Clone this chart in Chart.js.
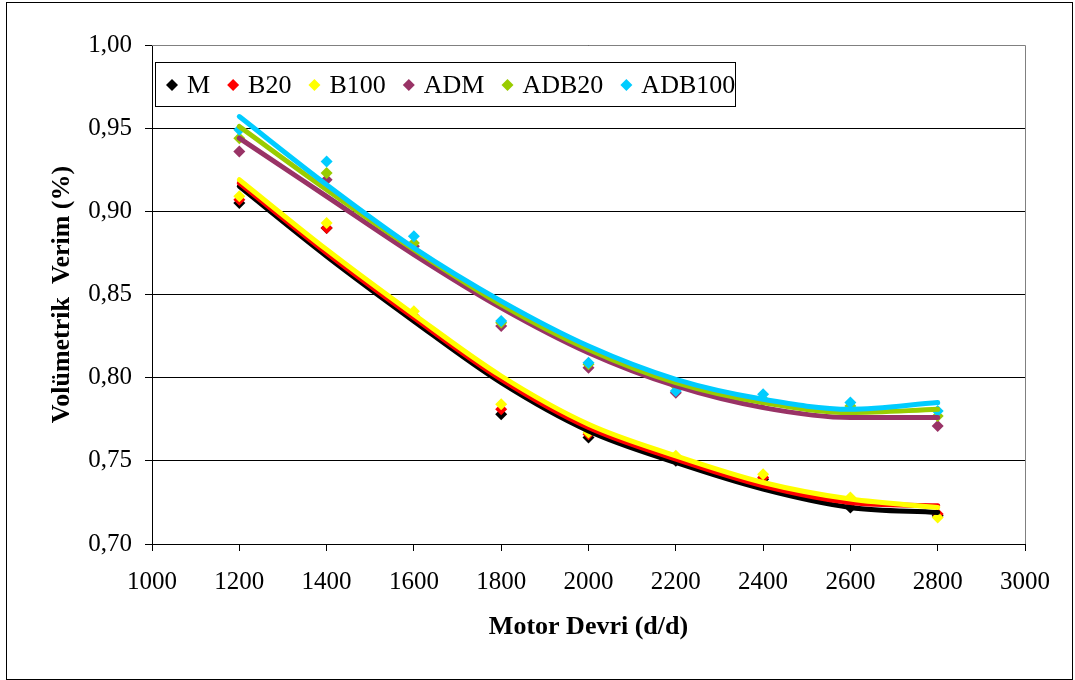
<!DOCTYPE html>
<html>
<head>
<meta charset="utf-8">
<script src="https://cdn.jsdelivr.net/npm/chart.js@4/dist/chart.umd.min.js"></script>
<style>
  html, body { margin: 0; padding: 0; background: #fff; }
  canvas { display: block; }
</style>
</head>
<body>
<canvas id="chart" width="1075" height="680"></canvas>
<script>
// motor speed (d/d)
const rpm = [1200, 1400, 1600, 1800, 2000, 2200, 2400, 2600, 2800];

// measured volumetric efficiency
const M      = [0.905, 0.890, 0.836, 0.778, 0.764, 0.750, 0.739, 0.722, 0.717];
const B20    = [0.907, 0.890, 0.837, 0.781, 0.766, 0.751, 0.740, 0.725, 0.718];
const B100   = [0.909, 0.893, 0.840, 0.784, 0.767, 0.753, 0.742, 0.728, 0.716];
const ADM    = [0.936, 0.919, 0.879, 0.831, 0.806, 0.791, 0.786, 0.781, 0.771];
const ADB20  = [0.944, 0.923, 0.881, 0.833, 0.808, 0.795, 0.787, 0.783, 0.777];
const ADB100 = [0.949, 0.930, 0.885, 0.834, 0.809, 0.792, 0.790, 0.785, 0.780];

// trendlines
const M_trend      = [0.915, 0.873, 0.834, 0.797, 0.768, 0.749, 0.733, 0.722, 0.719];
const B20_trend    = [0.917, 0.875, 0.836, 0.799, 0.770, 0.751, 0.735, 0.725, 0.723];
const B100_trend   = [0.919, 0.877, 0.838, 0.801, 0.772, 0.753, 0.737, 0.727, 0.722];
const ADM_trend    = [0.944, 0.909, 0.874, 0.842, 0.815, 0.795, 0.782, 0.776, 0.776];
const ADB20_trend  = [0.951, 0.913, 0.877, 0.844, 0.817, 0.797, 0.785, 0.779, 0.781];
const ADB100_trend = [0.957, 0.916, 0.878, 0.846, 0.819, 0.799, 0.787, 0.781, 0.785];

const seriesNames = ['M', 'B20', 'B100', 'ADM', 'ADB20', 'ADB100'];
const seriesColors = ['#000000', '#ff0000', '#ffff00', '#993366', '#99cc00', '#00ccff'];
const points = [M, B20, B100, ADM, ADB20, ADB100];
const trends = [M_trend, B20_trend, B100_trend, ADM_trend, ADB20_trend, ADB100_trend];

const toXY = arr => arr.map((v, i) => ({ x: rpm[i], y: v }));

let datasets = [];
// markers first (drawn underneath), later series on top
points.forEach((arr, i) => {
    datasets.push({
        label: seriesNames[i],
        data: toXY(arr),
        showLine: false,
        pointStyle: 'rectRot',
        pointRadius: 6,
        pointBorderWidth: 0,
        pointBackgroundColor: seriesColors[i],
        pointBorderColor: seriesColors[i],
        order: 20 - i
    });
});
trends.forEach((arr, i) => {
    datasets.push({
        label: seriesNames[i] + ' trend',
        data: toXY(arr),
        showLine: true,
        pointRadius: 0,
        borderColor: seriesColors[i],
        borderWidth: 5,
        borderCapStyle: 'round',
        borderJoinStyle: 'round',
        cubicInterpolationMode: 'monotone',
        order: 10 - i
    });
});

const serif = "'Liberation Serif', 'Times New Roman', serif";

// frame, gray plot border and the boxed legend inside the plot
const decorations = {
    id: 'decorations',
    beforeDatasetsDraw(chart) {
        const ctx = chart.ctx;
        const a = chart.chartArea;
        ctx.save();
        ctx.strokeStyle = '#808080';
        ctx.lineWidth = 1;
        ctx.beginPath();
        ctx.moveTo(a.left, a.top + 0.5);
        ctx.lineTo(a.right + 0.5, a.top + 0.5);
        ctx.lineTo(a.right + 0.5, a.bottom);
        ctx.stroke();
        ctx.restore();
    },
    afterDraw(chart) {
        const ctx = chart.ctx;
        ctx.save();
        ctx.strokeStyle = '#000';
        ctx.lineWidth = 1;
        ctx.strokeRect(6.5, 2.5, 1066, 677);

        // legend
        const box = { left: 155.5, top: 62.5, right: 735.5, bottom: 106.5 };
        ctx.fillStyle = '#fff';
        ctx.fillRect(box.left, box.top, box.right - box.left, box.bottom - box.top);
        ctx.strokeRect(box.left, box.top, box.right - box.left, box.bottom - box.top);
        ctx.font = '26px ' + serif;
        ctx.textBaseline = 'middle';
        ctx.textAlign = 'left';
        const cy = 85;
        let x = 172;
        seriesNames.forEach((name, i) => {
            ctx.fillStyle = seriesColors[i];
            ctx.beginPath();
            ctx.moveTo(x, cy - 6);
            ctx.lineTo(x + 6, cy);
            ctx.lineTo(x, cy + 6);
            ctx.lineTo(x - 6, cy);
            ctx.closePath();
            ctx.fill();
            ctx.fillStyle = '#000';
            ctx.fillText(name, x + 15, cy + 1);
            x = x + 15 + ctx.measureText(name).width + 23;
        });
        ctx.restore();
    }
};

new Chart(document.getElementById('chart'), {
    type: 'scatter',
    data: { datasets: datasets },
    options: {
        responsive: false,
        animation: false,
        layout: { padding: { top: 45, right: 50, left: 0, bottom: 0 } },
        plugins: {
            legend: { display: false },
            tooltip: { enabled: false }
        },
        scales: {
            x: {
                type: 'linear',
                min: 1000,
                max: 3000,
                afterFit: s => { s.height = 136; },
                ticks: {
                    stepSize: 200,
                    color: '#000',
                    padding: 16,
                    maxRotation: 0,
                    font: { family: serif, size: 25 },
                    callback: v => String(v)
                },
                grid: {
                    drawOnChartArea: false,
                    drawTicks: true,
                    tickLength: 7,
                    tickColor: '#000'
                },
                border: { color: '#000', width: 1 },
                title: {
                    display: true,
                    text: 'Motor Devri (d/d)',
                    color: '#000',
                    font: { family: serif, size: 26, weight: 'bold' },
                    padding: { top: 0, bottom: 37 }
                }
            },
            y: {
                min: 0.70,
                max: 1.00,
                afterFit: s => { s.width = 152; },
                ticks: {
                    stepSize: 0.05,
                    color: '#000',
                    padding: 13,
                    font: { family: serif, size: 25 },
                    callback: v => v.toFixed(2).replace('.', ',')
                },
                grid: {
                    color: '#000',
                    lineWidth: 1,
                    tickLength: 7,
                    tickColor: '#000'
                },
                border: { color: '#000', width: 1 },
                title: {
                    display: true,
                    text: 'Volümetrik  Verim (%)',
                    color: '#000',
                    font: { family: serif, size: 26, weight: 'bold' },
                    padding: { top: 47, bottom: 0 }
                }
            }
        }
    },
    plugins: [decorations]
});
</script>
</body>
</html>
